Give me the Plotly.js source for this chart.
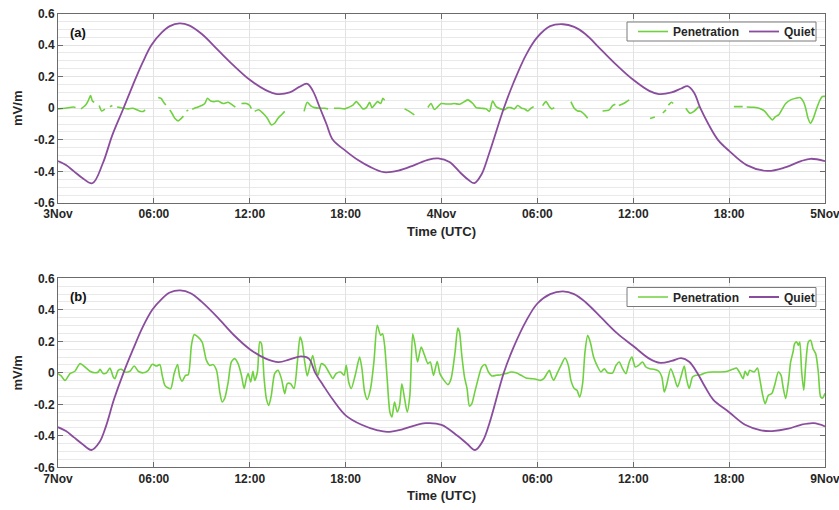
<!DOCTYPE html>
<html>
<head>
<meta charset="utf-8">
<script src="https://cdn.plot.ly/plotly-3.0.1.min.js"></script>
<style>html,body{margin:0;padding:0;background:#fff;}#chart{width:839px;height:510px;}</style>
</head>
<body>
<div id="chart"></div>
<script>
// ---------- tick labels ----------
const tickHours = [0, 6, 12, 18, 24, 30, 36, 42, 48];
const topTickText = ['3Nov', '06:00', '12:00', '18:00', '4Nov', '06:00', '12:00', '18:00', '5Nov'];
const botTickText = ['7Nov', '06:00', '12:00', '18:00', '8Nov', '06:00', '12:00', '18:00', '9Nov'];
const yTickVals = [-0.6, -0.4, -0.2, 0, 0.2, 0.4, 0.6];
const yTickText = ['-0.6', '-0.4', '-0.2', '0', '0.2', '0.4', '0.6'];
const seriesNames = ['Penetration', 'Quiet'];

// ---------- panel (a): quiet ----------
const topQuietHours = [0,0.5,1,1.5,2.15,2.8,3.4,4.1,4.7,5.3,5.85,6.5,7,7.6,8.2,9,10,11,12,13,13.7,14.5,15.1,15.6,15.95,16.4,16.8,17.2,18,18.8,19.5,20.4,21.3,22.3,23.2,23.8,24.5,25.2,25.7,26.06,26.5,27,27.9,28.5,29.3,30,30.8,31.6,32.3,33,34,35,36,37,37.6,38.4,39,39.4,39.8,40.2,40.7,41.3,42,43.1,44.4,45.5,46.5,47.1,48];
const topQuietValues = [-0.335,-0.36,-0.40,-0.44,-0.475,-0.35,-0.17,0,0.15,0.29,0.40,0.48,0.52,0.537,0.525,0.47,0.37,0.27,0.18,0.115,0.09,0.10,0.135,0.155,0.11,0,-0.1,-0.2,-0.27,-0.33,-0.37,-0.405,-0.395,-0.36,-0.325,-0.318,-0.34,-0.41,-0.455,-0.474,-0.42,-0.28,0,0.16,0.34,0.45,0.52,0.532,0.515,0.47,0.37,0.27,0.18,0.11,0.09,0.10,0.125,0.14,0.10,0,-0.1,-0.2,-0.27,-0.36,-0.397,-0.375,-0.335,-0.32,-0.335];

// ---------- panel (a): penetration (null = data gap) ----------
const topPenHours = [0,0.44,0.96,1.1,1.25,1.44,1.73,1.9,2.04,2.15,2.27,2.4,2.58,2.73,2.94,3.1,3.25,3.4,3.55,3.7,3.9,4.1,4.4,4.7,5.1,5.33,5.45,5.9,6.27,6.45,6.6,6.75,6.9,7.0,7.15,7.31,7.52,7.73,7.85,7.95,8.04,8.15,8.25,8.4,8.67,8.98,9.19,9.35,9.56,9.77,10.02,10.33,10.65,10.96,11.1,11.3,11.48,11.79,12.0,12.1,12.2,12.31,12.56,12.83,13.1,13.35,13.56,13.77,14.02,14.19,14.8,15.4,15.6,15.8,16.06,16.4,16.7,16.9,17.05,17.27,17.6,17.94,18.15,18.46,18.67,18.88,19.08,19.3,19.5,19.65,19.8,20.0,20.2,20.33,20.44,21.0,21.69,21.98,22.3,22.8,23.15,23.35,23.55,23.77,23.98,24.29,24.6,24.81,25.13,25.44,25.65,25.96,26.17,26.48,26.79,27.0,27.2,27.42,27.69,27.94,28.15,28.35,28.56,28.77,29.02,29.19,29.4,29.6,29.77,30.0,30.33,30.54,30.75,30.9,31.06,31.6,32.1,32.31,32.52,32.73,32.9,33.0,33.15,33.6,34.08,34.5,34.71,34.88,35.0,35.1,35.4,35.75,36.4,37.05,37.35,37.6,37.85,38.05,38.15,38.2,38.4,38.5,38.9,39.29,39.56,39.8,40.1,41.5,42.3,42.6,42.85,42.95,43.1,43.56,43.875,44.2,44.5,44.7,44.9,45.1,45.33,45.54,45.85,46.17,46.44,46.65,46.79,46.94,47.1,47.27,47.48,47.69,47.83,48];
const topPenValues = [-0.004,0,0.008,0.005,null,-0.004,0.02,0.05,0.08,0.046,0.038,null,0.017,-0.017,-0.006,null,0.01,0.017,null,0.008,0.004,0,-0.004,0,-0.017,-0.02,-0.01,null,0.068,0.062,0.04,0.02,null,-0.01,-0.035,-0.063,-0.08,-0.063,-0.05,null,-0.017,-0.012,null,-0.006,0.004,0.017,0.03,0.063,0.046,0.042,0.046,0.03,0.038,0.017,0.008,null,0.03,0.03,0.017,-0.002,null,-0.02,-0.01,-0.032,-0.063,-0.105,-0.095,-0.063,-0.038,-0.02,null,-0.02,0.038,0.017,0.004,0,0,-0.004,null,0,0,-0.004,0.004,0.02,0.042,0.02,-0.004,0.004,0.038,0.004,0.02,0.042,0.03,0.063,0.05,null,-0.004,-0.02,-0.042,null,0.005,0.03,-0.008,0.01,0.03,0.027,0.027,0.03,0.025,0.042,0.053,0.03,0.004,0,-0.004,-0.02,0.046,0.01,-0.004,-0.01,0.004,0.004,-0.004,0.017,0,-0.004,-0.017,0,0.01,null,0.017,0.042,0.01,-0.004,0.004,null,0.042,0,-0.017,-0.02,-0.035,-0.045,-0.063,null,-0.017,-0.01,0.017,0.025,null,0.017,0.03,0.053,null,-0.065,-0.055,null,-0.03,-0.01,null,0.02,0.038,0.03,null,0,-0.032,-0.02,0.01,null,0.01,0.01,0.01,null,0.008,0.006,0,-0.017,-0.053,-0.074,-0.053,-0.042,-0.004,0.03,0.053,0.063,0.068,0.042,0,-0.063,-0.095,-0.063,0,0.053,0.074,0.075];

// ---------- panel (b): quiet ----------
const botQuietHours = [0,0.5,1,1.5,2.1,2.6,3,3.5,4.1,4.7,5.3,5.9,6.5,7,7.65,8.3,9,10,11,12,13,13.8,14.5,15.2,15.7,16.1,16.6,17.2,18,19,20,20.6,21.5,22.3,23,24,25,25.6,26.1,26.6,27,27.9,28.5,29.3,30,30.8,31.6,32.3,33,34,35,36,37,37.7,38.4,39,39.5,40,40.5,41,42,43,44,44.7,45.7,46.5,47.3,48];
const botQuietValues = [-0.345,-0.37,-0.41,-0.45,-0.49,-0.44,-0.34,-0.17,0,0.15,0.29,0.40,0.47,0.51,0.523,0.505,0.45,0.35,0.24,0.15,0.09,0.068,0.085,0.104,0.09,0,-0.08,-0.17,-0.27,-0.33,-0.365,-0.375,-0.36,-0.335,-0.32,-0.33,-0.40,-0.45,-0.49,-0.43,-0.32,0,0.16,0.33,0.44,0.50,0.517,0.50,0.45,0.35,0.25,0.17,0.09,0.063,0.075,0.093,0.07,0,-0.09,-0.17,-0.25,-0.33,-0.365,-0.37,-0.355,-0.33,-0.32,-0.34];

// ---------- panel (b): penetration ----------
const botPenHours = [0,0.2,0.44,0.75,1.06,1.375,1.69,2.0,2.31,2.52,2.63,2.83,3.04,3.25,3.46,3.56,3.77,3.98,4.19,4.5,4.77,5.02,5.33,5.65,5.9,6.17,6.375,6.52,6.69,6.9,7.06,7.27,7.48,7.625,7.77,7.98,8.15,8.35,8.52,8.77,9.02,9.29,9.5,9.71,9.92,10.125,10.27,10.44,10.65,10.85,11.06,11.27,11.48,11.65,11.79,11.9,12.06,12.2,12.31,12.48,12.625,12.73,12.9,13.04,13.19,13.35,13.56,13.77,13.98,14.19,14.35,14.56,14.77,14.98,15.15,15.27,15.44,15.6,15.77,15.94,16.1,16.27,16.48,16.69,17.0,17.2,17.4,17.69,17.9,18.04,18.19,18.35,18.6,18.875,19.02,19.19,19.35,19.56,19.77,19.98,20.19,20.31,20.44,20.6,20.77,20.9,21.06,21.23,21.375,21.52,21.69,21.85,22.02,22.2,22.35,22.5,22.73,22.94,23.15,23.3,23.5,23.73,23.9,24.08,24.4,24.6,24.85,25.02,25.125,25.27,25.44,25.6,25.75,25.9,26.06,26.27,26.52,26.73,26.94,27.15,27.42,27.73,28.04,28.35,28.67,28.98,29.29,29.6,29.92,30.19,30.4,30.6,30.75,30.9,31.02,31.23,31.48,31.73,31.94,32.1,32.31,32.48,32.65,32.83,32.98,33.15,33.31,33.52,33.73,33.98,34.19,34.4,34.71,34.92,35.125,35.33,35.54,35.75,35.92,36.125,36.33,36.58,36.79,37.04,37.3,37.6,37.79,37.94,38.08,38.35,38.56,38.77,38.98,39.19,39.33,39.5,39.71,39.92,40.23,40.54,40.96,41.48,41.9,42.21,42.46,42.67,42.875,43.0,43.15,43.29,43.56,43.77,43.9,44.08,44.25,44.46,44.67,44.875,45.08,45.25,45.375,45.54,45.71,45.85,46.0,46.1,46.23,46.33,46.42,46.54,46.67,46.79,46.96,47.1,47.25,47.42,47.58,47.73,47.85,48.0];
const botPenValues = [-0.005,-0.02,-0.048,-0.005,0.01,0.058,0.037,0.01,0,0.005,0.022,-0.005,0,0.03,-0.027,-0.037,0.016,0.022,0.005,0.01,0.043,0.01,0,0.016,0.054,0.043,0.052,-0.016,-0.08,-0.097,-0.1,-0.005,0.052,-0.027,-0.054,-0.016,-0.012,0.174,0.242,0.227,0.195,0.079,0.047,0.052,0.016,-0.122,-0.185,-0.16,-0.059,0.069,0.09,0.058,-0.016,-0.1,-0.037,-0.005,-0.058,0.01,-0.048,0.005,0.196,0.185,-0.037,-0.164,-0.207,-0.143,-0.005,0.016,-0.037,-0.132,-0.069,-0.069,-0.1,0.069,0.227,0.196,0.069,-0.02,0.047,0.11,0.037,-0.016,0.058,0.047,-0.005,-0.037,-0.005,0.005,-0.016,0.047,-0.058,-0.1,-0.016,0.1,0.026,-0.122,-0.169,-0.1,0.069,0.301,0.238,0.248,0.174,-0.037,-0.249,-0.28,-0.186,-0.249,-0.207,-0.069,-0.164,-0.249,-0.143,0.248,0.174,0.069,0.164,0.111,0.058,0.069,-0.016,0.072,-0.005,-0.037,-0.075,-0.037,0.132,0.284,0.259,0.111,-0.027,-0.1,-0.211,-0.196,-0.132,-0.048,0.037,0.052,0.005,-0.02,-0.016,-0.012,-0.005,0.005,0,-0.016,-0.033,-0.037,-0.041,-0.048,-0.037,-0.005,0.016,-0.027,-0.048,-0.005,0.047,0.094,0.047,-0.048,-0.1,-0.111,-0.154,-0.069,0.132,0.238,0.195,0.1,0.047,0.005,0.026,0,0,0.047,0.069,0.026,-0.005,0.069,0.1,0.037,0.047,0.069,0.037,0.026,0.022,0.01,-0.027,-0.122,-0.08,0.026,-0.027,-0.09,-0.027,0.043,-0.037,-0.1,-0.027,-0.016,-0.012,0,0.005,0.005,0.01,0.022,0.03,0,-0.037,0.01,-0.016,0.016,0.005,0.03,-0.027,-0.132,-0.196,-0.143,-0.132,-0.069,0.005,-0.016,-0.09,-0.164,-0.059,0.069,0.132,0.185,0.196,0.174,0.196,0.005,-0.111,0.047,0.196,0.206,0.153,0.121,0.005,-0.154,-0.16,-0.13];

// ---------- styling ----------
const GREEN = '#6fd13f';
const PURPLE = '#8a4d9e';
const FONT = 'Arial, "Liberation Sans", sans-serif';
const TXT = '#262626';
const H = 510;

function xAxis(ticktext, anchor) {
  return {
    anchor: anchor, range: [0, 48], tickmode: 'array', tickvals: tickHours, ticktext: ticktext,
    ticklabeloverflow: 'allow',
    showgrid: true, gridcolor: '#e3e3e3', gridwidth: 1, zeroline: false,
    showline: true, linecolor: '#6b6b6b', linewidth: 1, mirror: 'ticks',
    ticks: 'inside', ticklen: 5, tickcolor: '#6b6b6b',
    tickfont: {family: FONT, size: 12, color: TXT, weight: 'bold'},
    title: {text: 'Time (UTC)', font: {family: FONT, size: 13, color: TXT, weight: 'bold'}, standoff: 6}
  };
}
function yAxis(domain, anchor) {
  return {
    anchor: anchor, domain: domain, range: [-0.6, 0.6], tickmode: 'array', tickvals: yTickVals, ticktext: yTickText,
    showgrid: true, gridcolor: '#e3e3e3', gridwidth: 1, zeroline: false,
    minor: {dtick: 0.05, showgrid: true, gridcolor: '#e9e9e9', gridwidth: 1, ticks: ''},
    showline: true, linecolor: '#6b6b6b', linewidth: 1, mirror: 'ticks',
    ticks: 'inside', ticklen: 5, tickcolor: '#6b6b6b',
    tickfont: {family: FONT, size: 12, color: TXT, weight: 'bold'},
    title: {text: 'mV/m', font: {family: FONT, size: 13, color: TXT, weight: 'bold'}, standoff: 8}
  };
}
// legend box in pixels: left 627, right 816
function legendCfg(midPx) {
  return {
    orientation: 'h', x: (820 - 58) / 767, xanchor: 'right', y: 1 - midPx / H, yanchor: 'middle',
    bgcolor: 'rgba(0,0,0,0)', borderwidth: 0,
    font: {family: FONT, size: 12, color: TXT, weight: 'bold'},
    itemwidth: 30, tracegroupgap: 0, traceorder: 'normal'
  };
}
function legendBox(topPx, botPx) {
  return {type: 'rect', xref: 'paper', yref: 'paper', layer: 'above',
    x0: (627 - 58) / 767, x1: (816 - 58) / 767, y0: 1 - botPx / H, y1: 1 - topPx / H,
    fillcolor: '#ffffff', line: {color: '#7a7a7a', width: 1}};
}

const traces = [
  {x: topPenHours, y: topPenValues, name: seriesNames[0], type: 'scatter', mode: 'lines',
   line: {color: GREEN, width: 1.6, shape: 'spline', smoothing: 0.7}, connectgaps: false, xaxis: 'x', yaxis: 'y', legend: 'legend'},
  {x: topQuietHours, y: topQuietValues, name: seriesNames[1], type: 'scatter', mode: 'lines',
   line: {color: PURPLE, width: 1.8, shape: 'spline', smoothing: 1}, xaxis: 'x', yaxis: 'y', legend: 'legend'},
  {x: botPenHours, y: botPenValues, name: seriesNames[0], type: 'scatter', mode: 'lines',
   line: {color: GREEN, width: 1.6, shape: 'spline', smoothing: 0.7}, xaxis: 'x2', yaxis: 'y2', legend: 'legend2'},
  {x: botQuietHours, y: botQuietValues, name: seriesNames[1], type: 'scatter', mode: 'lines',
   line: {color: PURPLE, width: 1.8, shape: 'spline', smoothing: 1}, xaxis: 'x2', yaxis: 'y2', legend: 'legend2'}
];

const layout = {
  width: 839, height: H,
  margin: {l: 58, r: 14, t: 0, b: 0},
  paper_bgcolor: '#ffffff', plot_bgcolor: '#ffffff',
  showlegend: true,
  xaxis: xAxis(topTickText, 'y'),
  yaxis: yAxis([0.602, 0.9735], 'x'),
  xaxis2: xAxis(botTickText, 'y2'),
  yaxis2: yAxis([0.0837, 0.4543], 'x2'),
  legend: legendCfg(31.5),
  legend2: legendCfg(297),
  shapes: [legendBox(22, 41), legendBox(287.5, 306.5)],
  annotations: [
    {text: '(a)', xref: 'paper', yref: 'paper', x: 0.013, y: 1 - 32 / H, xanchor: 'left', yanchor: 'middle', showarrow: false,
     font: {family: FONT, size: 13, color: '#111', weight: 'bold'}},
    {text: '(b)', xref: 'paper', yref: 'paper', x: 0.013, y: 1 - 296 / H, xanchor: 'left', yanchor: 'middle', showarrow: false,
     font: {family: FONT, size: 13, color: '#111', weight: 'bold'}}
  ]
};

Plotly.newPlot('chart', traces, layout, {displayModeBar: false, staticPlot: true});
</script>
</body>
</html>
